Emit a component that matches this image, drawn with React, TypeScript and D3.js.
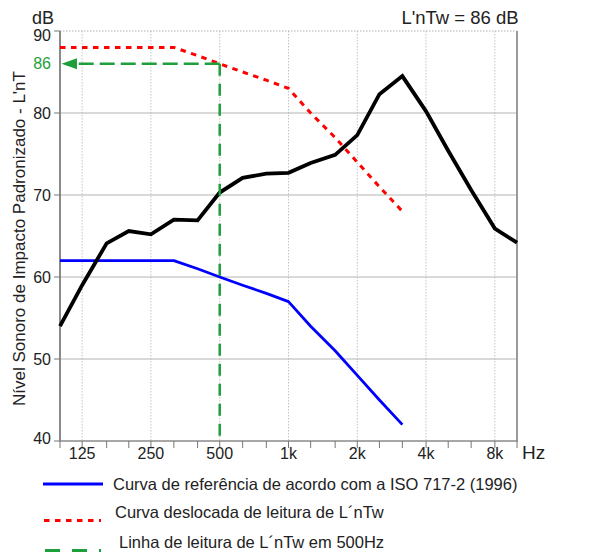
import React from "react";
import * as d3 from "d3";

const freqs = [100, 125, 160, 200, 250, 315, 400, 500, 630, 800, 1000, 1250, 1600, 2000, 2500, 3150, 4000, 5000, 6300, 8000, 10000];
const measured = [54.0, 59.0, 64.1, 65.6, 65.2, 67.0, 66.9, 70.3, 72.1, 72.6, 72.7, 73.9, 74.9, 77.3, 82.3, 84.5, 80.2, 75.4, 70.6, 65.9, 64.2];
const refFreqs = [100, 125, 160, 200, 250, 315, 400, 500, 630, 800, 1000, 1250, 1600, 2000, 2500, 3150];
const reference = [62, 62, 62, 62, 62, 62, 61, 60, 59, 58, 57, 54, 51, 48, 45, 42];
const shifted = [88, 88, 88, 88, 88, 88, 87, 86, 85, 84, 83, 80, 77, 74, 71, 68];
const xTickFreqs = [125, 250, 500, 1000, 2000, 4000, 8000];
const xTickLabels = ["125", "250", "500", "1k", "2k", "4k", "8k"];
const yTicks = [40, 50, 60, 70, 80, 90];
const readFreq = 500;
const readValue = 86;
const legendLabels = [
  "Curva de referência de acordo com a ISO 717-2 (1996)",
  "Curva deslocada de leitura de L´nTw",
  "Linha de leitura de L´nTw em 500Hz",
];

const FONT = "'Liberation Sans', Arial, sans-serif";

export default function App() {
  const x = d3.scaleLog().domain([100, 10000]).range([60, 517]);
  const y = d3.scaleLinear().domain([40, 90]).range([441, 31]);
  const line = d3
    .line<[number, number]>()
    .x((d) => x(d[0]))
    .y((d) => y(d[1]));
  const measPts = freqs.map((f, i) => [f, measured[i]] as [number, number]);
  const refPts = refFreqs.map((f, i) => [f, reference[i]] as [number, number]);
  const shPts = refFreqs.map((f, i) => [f, shifted[i]] as [number, number]);
  const green = "#1f9e3c";
  const x0 = x.range()[0];
  const x1 = x.range()[1];
  const yb = y(40);
  const yt = y(90);
  return (
    <svg width={608} height={552} style={{ position: "absolute", left: 0, top: 0, background: "#fff" }} fontFamily={FONT}>
      {/* vertical grid */}
      {xTickFreqs.map((f) => (
        <line key={"vg" + f} x1={x(f)} x2={x(f)} y1={yt} y2={yb} stroke="#c4c4c4" strokeWidth={1} strokeDasharray="1.5,1.5" />
      ))}
      {/* horizontal grid */}
      {yTicks.filter((v) => v > 40 && v < 90).map((v) => (
        <line key={"hg" + v} x1={x0} x2={x1} y1={y(v)} y2={y(v)} stroke="#b4b4b4" strokeWidth={1} />
      ))}
      <line x1={x0} x2={x1} y1={yt} y2={yt} stroke="#b0b0b0" strokeWidth={1} strokeDasharray="1.5,1.5" />
      {/* axes */}
      <line x1={x1} x2={x1} y1={yt} y2={yb} stroke="#9a9a9a" strokeWidth={2} />
      <line x1={x0} x2={x0} y1={yt} y2={yb} stroke="#8a8a8a" strokeWidth={2} />
      <line x1={x0} x2={x1 + 1} y1={yb} y2={yb} stroke="#8a8a8a" strokeWidth={1.5} />
      {freqs.map((f) => (
        <line key={"xt" + f} x1={x(f)} x2={x(f)} y1={yb} y2={yb + 7} stroke="#777" strokeWidth={1} />
      ))}
      {yTicks.map((v) => (
        <line key={"yt" + v} x1={x0 - 6} x2={x0} y1={y(v)} y2={y(v)} stroke="#777" strokeWidth={1} />
      ))}
      {yTicks.map((v) => (
        <text key={"yl" + v} x={51} y={y(v) + 5.5 + (v === 90 ? 4 : v === 40 ? -3 : 0)} textAnchor="end" fontSize={16} fill="#222">
          {v}
        </text>
      ))}
      {xTickFreqs.map((f, i) => (
        <text key={"xl" + f} x={x(f)} y={459} textAnchor="middle" fontSize={16} fill="#222">
          {xTickLabels[i]}
        </text>
      ))}
      <text x={522} y={459} fontSize={19} fill="#222">Hz</text>
      <text x={32} y={24} fontSize={18} fill="#222">dB</text>
      <text x={460} y={24} textAnchor="middle" fontSize={18.5} fill="#222">L'nTw = 86 dB</text>
      <text transform="translate(25,238.5) rotate(-90)" textAnchor="middle" fontSize={17} fill="#222">
        Nível Sonoro de Impacto Padronizado - L'nT
      </text>
      {/* data lines */}
      <path d={line(refPts) || ""} fill="none" stroke="#0000ff" strokeWidth={2.8} strokeLinejoin="round" />
      <path d={line(shPts) || ""} fill="none" stroke="#ff0000" strokeWidth={3} strokeDasharray="5.5,5.5" />
      <path d={line(measPts) || ""} fill="none" stroke="#000" strokeWidth={3.8} strokeLinejoin="miter" />
      {/* reading line */}
      <line x1={x(readFreq)} x2={x(readFreq)} y1={y(readValue)} y2={yb} stroke={green} strokeWidth={2.5} strokeDasharray="12,8" />
      <line x1={x(readFreq)} x2={76} y1={y(readValue)} y2={y(readValue)} stroke={green} strokeWidth={2.5} strokeDasharray="15,6" />
      <path d={`M${61.5},${y(readValue)} L${77},${y(readValue) - 5.5} L${77},${y(readValue) + 5.5} Z`} fill={green} />
      <text x={51} y={y(readValue) + 5.5} textAnchor="end" fontSize={16} fill={green}>{readValue}</text>
      {/* legend */}
      <line x1={43} x2={103} y1={484} y2={484} stroke="#0000ff" strokeWidth={2.8} />
      <text x={113} y={489.5} fontSize={16.5} fill="#222">{legendLabels[0]}</text>
      <line x1={44} x2={101} y1={520.5} y2={520.5} stroke="#ff0000" strokeWidth={3} strokeDasharray="5.5,5.5" />
      <text x={115} y={517.5} fontSize={16.5} fill="#222">{legendLabels[1]}</text>
      <line x1={45} x2={101} y1={550.5} y2={550.5} stroke={green} strokeWidth={3} strokeDasharray="15,12" />
      <text x={119} y={547.5} fontSize={16.5} fill="#222">{legendLabels[2]}</text>
    </svg>
  );
}
